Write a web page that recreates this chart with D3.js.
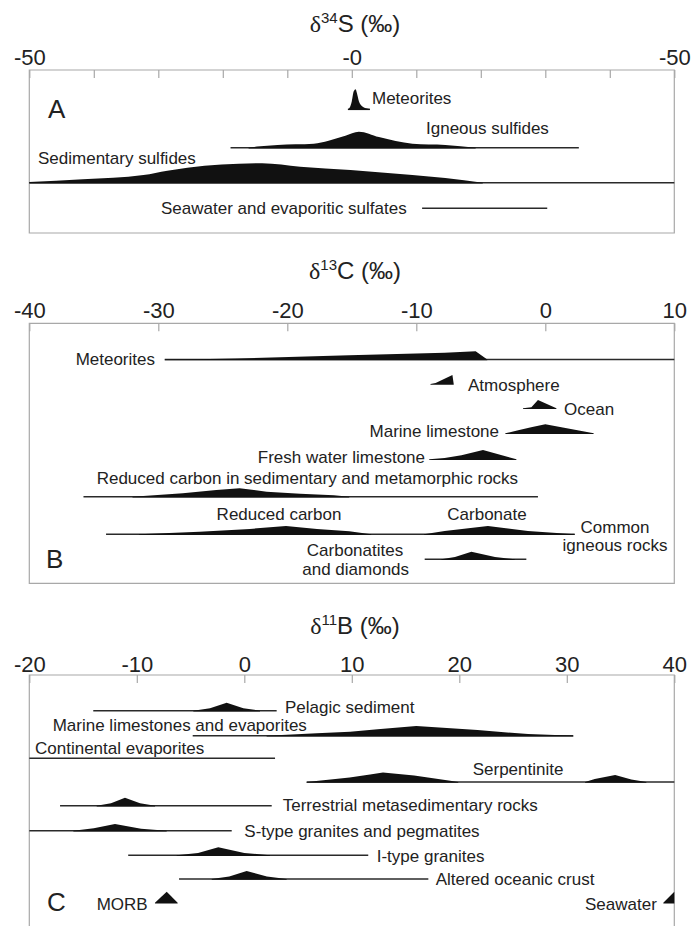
<!DOCTYPE html>
<html>
<head>
<meta charset="utf-8">
<script src="https://cdn.jsdelivr.net/npm/d3@7"></script>
<style>
  body { margin: 0; background: #fff; }
  text { font-family: "Liberation Sans", Arial, sans-serif; fill: #222; }
</style>
</head>
<body>
<svg></svg>
<script>
const width = 695;
const height = 926;
const left = 29.3;
const right = 674.3;

// ---------- DATA (delta value, relative abundance 0..1) ----------

// panel A : d34S
const sTicks = d3.range(-50, 51, 10);
const sTickText = new Map([[-50, '-50'], [0, '-0'], [50, '-50']]);
const sMeteorites = [[-0.6, 0], [-0.3, 0.1], [0, 0.4], [0.3, 0.9], [0.6, 1.0], [0.8, 0.8], [1.1, 0.4], [1.6, 0.15], [2.2, 0.05], [2.8, 0]];
const sMeteoritesRange = [-0.6, 2.8];
const sIgneous = [[-16, 0], [-14.7, 0.06], [-11.5, 0.14], [-5.9, 0.2], [-3.6, 0.35], [-1, 0.6], [1.1, 0.8], [4.2, 0.53], [9.4, 0.2], [14.5, 0.14], [19.2, 0]];
const sIgneousRange = [-18.8, 35.2];
const sSedimentary = [[-50, 0.03], [-41.7, 0.17], [-32.3, 0.38], [-28.6, 0.6], [-25.5, 0.75], [-13.9, 0.97], [-8, 0.8], [-0.2, 0.63], [9.4, 0.38], [14.5, 0.23], [20.3, 0]];
const sSedimentaryRange = [-50, 50];
const sSeawaterRange = [10.9, 30.3];

// panel B : d13C
const cTicks = d3.range(-40, 11, 10);
const cMeteorites = [[-29.5, 0], [-27, 0.01], [-24, 0.05], [-15.2, 0.21], [-7.8, 0.34], [-5.4, 0.41], [-4.5, 0]];
const cMeteoritesRange = [-29.5, 10];
const cAtmosphere = [[-8.9, 0], [-8.5, 0.05], [-7.2, 0.45], [-7.1, 0]];
const cOcean = [[-1.73, 0], [-1.08, 0.05], [-0.57, 0.42], [0.86, 0]];
const cMarineLimestone = [[-3.1, 0], [-2.1, 0.15], [-1.1, 0.3], [0, 0.45], [3.75, 0]];
const cFreshLimestone = [[-9, 0], [-7.8, 0.07], [-6.5, 0.2], [-4.83, 0.47], [-2.24, 0]];
const cSedMeta = [[-32, 0], [-28.1, 0.17], [-25.5, 0.33], [-23.7, 0.42], [-21.6, 0.25], [-19, 0.15], [-16.4, 0.07], [-15.2, 0]];
const cSedMetaRange = [-35.8, -0.57];
const cIgneousReduced = [[-31.5, 0], [-26.8, 0.13], [-22.9, 0.27], [-20.1, 0.42], [-17.7, 0.27], [-15.2, 0.15], [-13.5, 0]];
const cIgneousCarbonate = [[-9.4, 0], [-7.8, 0.17], [-4.45, 0.42], [-1.35, 0.17], [2.28, 0]];
const cIgneousRange = [-34.05, 2.28];
const cCarbonatites = [[-8.06, 0], [-7.0, 0.12], [-5.73, 0.38], [-3.9, 0.12], [-2.37, 0]];
const cCarbonatitesRange = [-9.35, -1.47];

// panel C : d11B
const bTicks = d3.range(-20, 41, 10);
const bPelagic = [[-4.74, 0], [-3.19, 0.12], [-1.64, 0.4], [-0.09, 0.12], [1.46, 0]];
const bPelagicRange = [-14.05, 3.01];
const bMarine = [[2.08, 0], [6.74, 0.12], [9.84, 0.2], [12.4, 0.32], [16.0, 0.48], [21.7, 0.28], [26.4, 0.08], [29.5, 0.02], [30.6, 0]];
const bMarineRange = [-4.8, 30.6];
const bContinentalRange = [-20, 2.86];
const bSerpentinite1 = [[5.8, 0], [9.8, 0.23], [11.7, 0.37], [12.9, 0.47], [15.8, 0.32], [19, 0.08], [19.9, 0]];
const bSerpentinite2 = [[31.7, 0], [32.6, 0.15], [34.5, 0.35], [36, 0.12], [37.4, 0]];
const bSerpentiniteRange = [5.8, 40];
const bTerrestrial = [[-13.73, 0], [-12.4, 0.12], [-11.1, 0.4], [-9.7, 0.12], [-8.3, 0]];
const bTerrestrialRange = [-17.14, 2.55];
const bSType = [[-15.9, 0], [-14, 0.12], [-12.03, 0.33], [-9.6, 0.1], [-7.22, 0]];
const bSTypeRange = [-20, -1.17];
const bIType = [[-6.29, 0], [-4.3, 0.12], [-2.42, 0.4], [0, 0.12], [2.39, 0]];
const bITypeRange = [-10.8, 11.53];
const bAltered = [[-3.03, 0], [-1.4, 0.12], [0.22, 0.4], [2.1, 0.12], [3.94, 0]];
const bAlteredRange = [-6.07, 17.12];
const bMORB = [[-8.31, 0], [-7.22, 0.55], [-6.2, 0]];
const bSeawater = [[38.98, 0], [40, 0.55], [40, 0]];

// ---------- LAYOUT ----------
const plainTick = d => String(d);   // keeps the hyphen-minus of the original

const panels = [
  {
    iso: '34', el: 'S', titleY: 23, domain: [-50, 50], ticks: sTicks,
    fmt: d => sTickText.get(d) || '', pad: 5, top: 70, bottom: 233,
    letter: 'A', letterX: 48, letterY: 109, curve: d3.curveMonotoneX,
    rows: [
      { base: 109.3, range: sMeteoritesRange, humps: [sMeteorites] },
      { base: 147.7, range: sIgneousRange, humps: [sIgneous] },
      { base: 182.7, range: sSedimentaryRange, humps: [sSedimentary] },
      { base: 208.3, range: sSeawaterRange, humps: [] }
    ],
    labels: [
      ['Meteorites', 372, 98.3, 'start'],
      ['Igneous sulfides', 426, 127.7, 'start'],
      ['Sedimentary sulfides', 38, 158.3, 'start'],
      ['Seawater and evaporitic sulfates', 161, 208.3, 'start']
    ]
  },
  {
    iso: '13', el: 'C', titleY: 270, domain: [-40, 10], ticks: cTicks,
    fmt: plainTick, pad: 5, top: 323.3, bottom: 583.3,
    letter: 'B', letterX: 46, letterY: 559, curve: d3.curveLinear,
    rows: [
      { base: 359.5, range: cMeteoritesRange, humps: [cMeteorites] },
      { base: 384, range: null, humps: [cAtmosphere] },
      { base: 408.3, range: null, humps: [cOcean] },
      { base: 433.3, range: null, humps: [cMarineLimestone] },
      { base: 459.3, range: null, humps: [cFreshLimestone] },
      { base: 496.7, range: cSedMetaRange, humps: [cSedMeta] },
      { base: 534.3, range: cIgneousRange, humps: [cIgneousReduced, cIgneousCarbonate] },
      { base: 559.3, range: cCarbonatitesRange, humps: [cCarbonatites] }
    ],
    labels: [
      ['Meteorites', 155, 359.3, 'end'],
      ['Atmosphere', 468, 385, 'start'],
      ['Ocean', 564, 409, 'start'],
      ['Marine limestone', 499, 430.7, 'end'],
      ['Fresh water limestone', 425, 457.3, 'end'],
      ['Reduced carbon in sedimentary and metamorphic rocks', 96.7, 478.3, 'start'],
      ['Reduced carbon', 279, 514.3, 'middle'],
      ['Carbonate', 487, 514, 'middle'],
      ['Common', 615, 526.7, 'middle'],
      ['igneous rocks', 615, 545, 'middle'],
      ['Carbonatites', 355, 550, 'middle'],
      ['and diamonds', 355.7, 569, 'middle']
    ]
  },
  {
    iso: '11', el: 'B', titleY: 625, domain: [-20, 40], ticks: bTicks,
    fmt: plainTick, pad: 3, top: 675, bottom: null,
    letter: 'C', letterX: 47, letterY: 901.7, curve: d3.curveLinear,
    rows: [
      { base: 710.7, range: bPelagicRange, humps: [bPelagic] },
      { base: 735.7, range: bMarineRange, humps: [bMarine] },
      { base: 758.3, range: bContinentalRange, humps: [] },
      { base: 782, range: bSerpentiniteRange, humps: [bSerpentinite1, bSerpentinite2] },
      { base: 805.7, range: bTerrestrialRange, humps: [bTerrestrial] },
      { base: 830.7, range: bSTypeRange, humps: [bSType] },
      { base: 855.3, range: bITypeRange, humps: [bIType] },
      { base: 879, range: bAlteredRange, humps: [bAltered] },
      { base: 902.7, range: null, humps: [bMORB, bSeawater] }
    ],
    labels: [
      ['Pelagic sediment', 285, 706.7, 'start'],
      ['Marine limestones and evaporites', 52.7, 725, 'start'],
      ['Continental evaporites', 35, 747.7, 'start'],
      ['Serpentinite', 472.7, 769, 'start'],
      ['Terrestrial metasedimentary rocks', 282.7, 805, 'start'],
      ['S-type granites and pegmatites', 244.3, 830.7, 'start'],
      ['I-type granites', 376.7, 855.7, 'start'],
      ['Altered oceanic crust', 435.7, 879.3, 'start'],
      ['MORB', 96.7, 904, 'start'],
      ['Seawater', 585, 904, 'start']
    ]
  }
];

const hScale = d3.scaleLinear().domain([0, 1]).range([0, 20]);

const svg = d3.select('svg')
  .attr('width', width)
  .attr('height', height);

panels.forEach(p => {
  const x = d3.scaleLinear().domain(p.domain).range([left, right]);
  const g = svg.append('g');

  // frame (panel C is cut at the bottom)
  const frame = p.bottom === null
    ? `M${left},${height}V${p.top}H${right}V${height}`
    : `M${left},${p.top}H${right}V${p.bottom}H${left}Z`;
  g.append('path')
    .attr('d', frame)
    .attr('fill', 'none')
    .attr('stroke', '#a8a8a8')
    .attr('stroke-width', 1.2);

  // axis: ticks inside the frame, labels above
  const axis = d3.axisTop(x)
    .tickValues(p.ticks)
    .tickFormat(p.fmt)
    .tickSize(-8)
    .tickPadding(p.pad);
  const ax = g.append('g')
    .attr('transform', `translate(0,${p.top})`)
    .call(axis);
  ax.select('.domain').remove();
  ax.selectAll('line').attr('stroke', '#a8a8a8').attr('stroke-width', 1.2);
  ax.selectAll('text')
    .style('font-family', '"Liberation Sans", Arial, sans-serif')
    .style('font-size', '22px')
    .attr('fill', '#222');

  // title
  const t = g.append('text')
    .attr('x', 355)
    .attr('y', p.titleY)
    .attr('dy', '0.36em')
    .attr('text-anchor', 'middle')
    .style('font-size', '24px');
  t.append('tspan').style('font-family', '"Liberation Serif", serif').text('\u03B4');
  t.append('tspan').attr('dy', -9).style('font-size', '15px').text(p.iso);
  t.append('tspan').attr('dy', 9).text(p.el + ' (\u2030)');

  // distributions
  p.rows.forEach(r => {
    if (r.range) {
      g.append('line')
        .attr('x1', x(r.range[0]))
        .attr('x2', x(r.range[1]))
        .attr('y1', r.base)
        .attr('y2', r.base)
        .attr('stroke', '#2a2a2a')
        .attr('stroke-width', 1.6);
    }
    const area = d3.area()
      .x(d => x(d[0]))
      .y0(r.base + 0.8)
      .y1(d => r.base - hScale(d[1]))
      .curve(p.curve);
    r.humps.forEach(h => {
      g.append('path')
        .datum(h)
        .attr('d', area)
        .attr('fill', '#111');
    });
  });

  // labels
  p.labels.forEach(([txt, lx, ly, anchor]) => {
    g.append('text')
      .attr('x', lx)
      .attr('y', ly)
      .attr('dy', '0.36em')
      .attr('text-anchor', anchor)
      .style('font-size', '17px')
      .text(txt);
  });

  // panel letter
  g.append('text')
    .attr('x', p.letterX)
    .attr('y', p.letterY)
    .attr('dy', '0.36em')
    .style('font-size', '26px')
    .text(p.letter);
});
</script>
</body>
</html>
